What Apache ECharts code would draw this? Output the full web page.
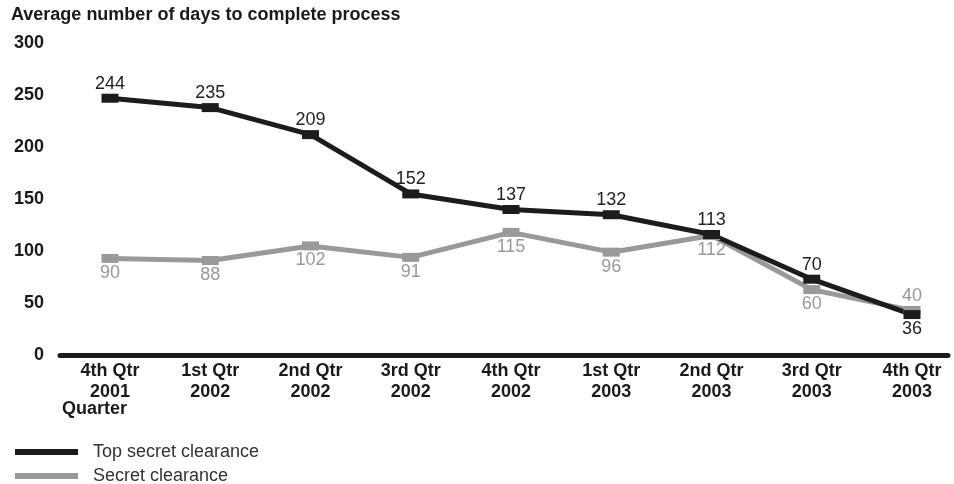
<!DOCTYPE html>
<html><head><meta charset="utf-8">
<script src="https://cdn.jsdelivr.net/npm/echarts@6/dist/echarts.min.js"></script>
<style>html,body{margin:0;padding:0;background:#fff}#c{width:954px;height:484px}</style>
</head><body><div id="c"></div>
<script>
const categories = ['4th Qtr\n2001','1st Qtr\n2002','2nd Qtr\n2002','3rd Qtr\n2002','4th Qtr\n2002','1st Qtr\n2003','2nd Qtr\n2003','3rd Qtr\n2003','4th Qtr\n2003'];
const topSecret = [244, 235, 209, 152, 137, 132, 113, 70, 36];
const secret = [90, 88, 102, 91, 115, 96, 112, 60, 40];
const yTicks = [0, 50, 100, 150, 200, 250, 300];
const seriesNames = ['Top secret clearance', 'Secret clearance'];

const FONT = '"Liberation Sans", Arial, sans-serif';
const BLACK = '#1c1c1c', GRAY = '#999999';

function pts(vals, other, isTop) {
  return vals.map((v, i) => {
    const above = isTop ? v >= other[i] : v > other[i];
    return { value: v, label: { position: above ? 'top' : 'bottom' } };
  });
}

function legendFor(name, top) {
  return {
    orient: 'vertical', left: 15, top: top, padding: 0, itemWidth: 63, itemHeight: 6,
    icon: 'rect',
    textStyle: { fontFamily: FONT, fontSize: 18, color: '#333', lineHeight: 18, padding: [0,0,0,10] },
    data: [name]
  };
}

const chart = echarts.init(document.getElementById('c'), null, { renderer: 'canvas' });
chart.setOption({
  animation: false,
  title: [
    { text: 'Average number of days to complete process', left: 11, top: 6, padding: 0,
      textStyle: { fontFamily: FONT, fontWeight: 'bold', fontSize: 18, color: '#1a1a1a' } },
    { text: 'Quarter', left: 62, top: 400, padding: 0,
      textStyle: { fontFamily: FONT, fontWeight: 'bold', fontSize: 18, color: '#1a1a1a' } }
  ],
  legend: [legendFor(seriesNames[0], 443), legendFor(seriesNames[1], 467)],
  grid: [
    { left: 110, right: 42, top: 40, bottom: 132 },
    { left: 60, right: 6, top: 300, bottom: 129 }
  ],
  xAxis: [
    { type: 'category', data: categories, boundaryGap: false, gridIndex: 0,
      axisLine: { show: false }, axisTick: { show: false }, splitLine: { show: false },
      axisLabel: { margin: 9, fontFamily: FONT, fontWeight: 'bold', fontSize: 18, color: '#1a1a1a', lineHeight: 21 } },
    { type: 'value', gridIndex: 1, min: 0, max: 1,
      axisLine: { show: true, lineStyle: { color: BLACK, width: 5 } },
      axisTick: { show: false }, axisLabel: { show: false }, splitLine: { show: false } }
  ],
  yAxis: [
    { type: 'value', min: yTicks[0], max: yTicks[yTicks.length-1], interval: 50, gridIndex: 0,
      axisLine: { show: false }, axisTick: { show: false }, splitLine: { show: false },
      axisLabel: { margin: 66, fontFamily: FONT, fontWeight: 'bold', fontSize: 18, color: '#1a1a1a', verticalAlign: 'top', lineHeight: 7 } },
    { type: 'value', gridIndex: 1, show: false, min: 0, max: 1 }
  ],
  series: [
    { name: seriesNames[1], type: 'line', data: pts(secret, topSecret, false),
      symbol: 'rect', symbolSize: [17, 9], color: GRAY,
      lineStyle: { color: GRAY, width: 5 }, itemStyle: { color: GRAY },
      label: { show: true, distance: 1, fontFamily: FONT, fontSize: 18, color: GRAY } },
    { name: seriesNames[0], type: 'line', data: pts(topSecret, secret, true),
      symbol: 'rect', symbolSize: [17, 9], color: BLACK,
      lineStyle: { color: BLACK, width: 5 }, itemStyle: { color: BLACK },
      label: { show: true, distance: 1, fontFamily: FONT, fontSize: 18, color: '#222' } }
  ]
});
</script></body></html>
